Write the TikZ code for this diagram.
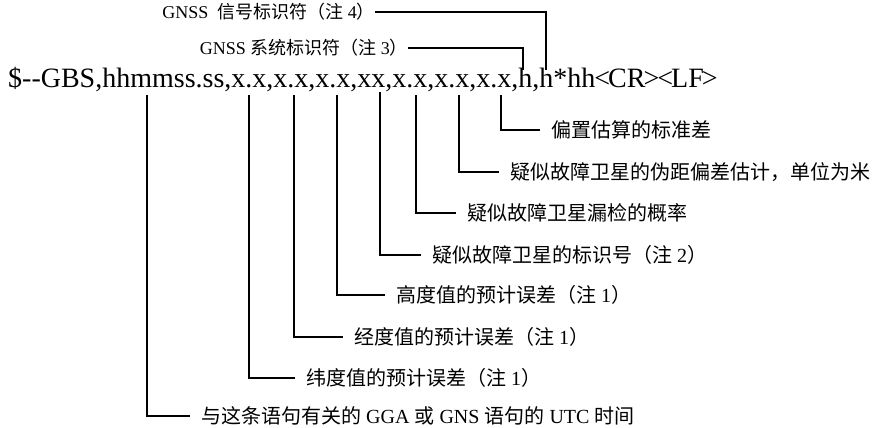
\documentclass[tikz,border=0pt]{standalone}
\usepackage{fontspec}
\setmainfont{Liberation Serif}
\newfontfamily\cjk{Noto Sans CJK SC}
\newcommand\brl{\kern-1pt<\kern-2pt}
\newcommand\brr{\kern-2pt>\kern-1pt}
\begin{document}
\begin{tikzpicture}[x=1pt,y=-1pt,
  lbl/.style={anchor=west, inner xsep=11pt, inner ysep=0pt, font=\fontsize{20}{22}\selectfont},
  lblr/.style={lbl, anchor=east, inner xsep=0pt, font=\fontsize{18}{20}\selectfont},
  lead/.style={line width=1.5pt}]
  \useasboundingbox (0,0) rectangle (881,428);
  \node[anchor=base west, inner sep=0pt, font=\fontsize{28}{30}\selectfont] (msg) at (8,88)
    {\$-{}-GBS,hhmmss.ss,x.x,x.x,x.x,xx,x.x,x.x,x.x,h,h*hh\brl CR\brr\brl LF\brr};
  % fields of the sentence
  \coordinate (utc) at (147,95);
  \coordinate (lat) at (249,95);
  \coordinate (lon) at (294,95);
  \coordinate (alt) at (337,95);
  \coordinate (sid) at (380,92);
  \coordinate (miss) at (416,95);
  \coordinate (bias) at (459,95);
  \coordinate (sdev) at (501,95);
  \coordinate (sys) at (523,70);
  \coordinate (sig) at (546,70);
  % labels below
  \node[lbl] (nsdev) at (540,130) {{\cjk 偏置估算的标准差}};
  \node[lbl] (nbias) at (499,172) {{\cjk 疑似故障卫星的伪距偏差估计，单位为米}};
  \node[lbl] (nmiss) at (456,213) {{\cjk 疑似故障卫星漏检的概率}};
  \node[lbl] (nsid) at (421,255) {{\cjk 疑似故障卫星的标识号（注} 2{\cjk ）}};
  \node[lbl] (nalt) at (385,295) {{\cjk 高度值的预计误差（注} 1{\cjk ）}};
  \node[lbl] (nlon) at (343,337) {{\cjk 经度值的预计误差（注} 1{\cjk ）}};
  \node[lbl] (nlat) at (295,378) {{\cjk 纬度值的预计误差（注} 1{\cjk ）}};
  \node[lbl] (nutc) at (190,416) {{\cjk 与这条语句有关的} GGA {\cjk 或} GNS {\cjk 语句的} UTC {\cjk 时间}};
  % labels above
  \node[lblr] (nsig) at (375,12) {GNSS\enspace{\cjk 信号标识符（注} 4{\cjk ）}};
  \node[lblr] (nsys) at (408,48) {GNSS {\cjk 系统标识符（注} 3{\cjk ）}};
  \draw[lead] (sdev) |- (nsdev.west);
  \draw[lead] (bias) |- (nbias.west);
  \draw[lead] (miss) |- (nmiss.west);
  \draw[lead] (sid) |- (nsid.west);
  \draw[lead] (alt) |- (nalt.west);
  \draw[lead] (lon) |- (nlon.west);
  \draw[lead] (lat) |- (nlat.west);
  \draw[lead] (utc) |- (nutc.west);
  \draw[lead] (nsig.east) -| (sig);
  \draw[lead] (nsys.east) -| (sys);
\end{tikzpicture}
\end{document}
